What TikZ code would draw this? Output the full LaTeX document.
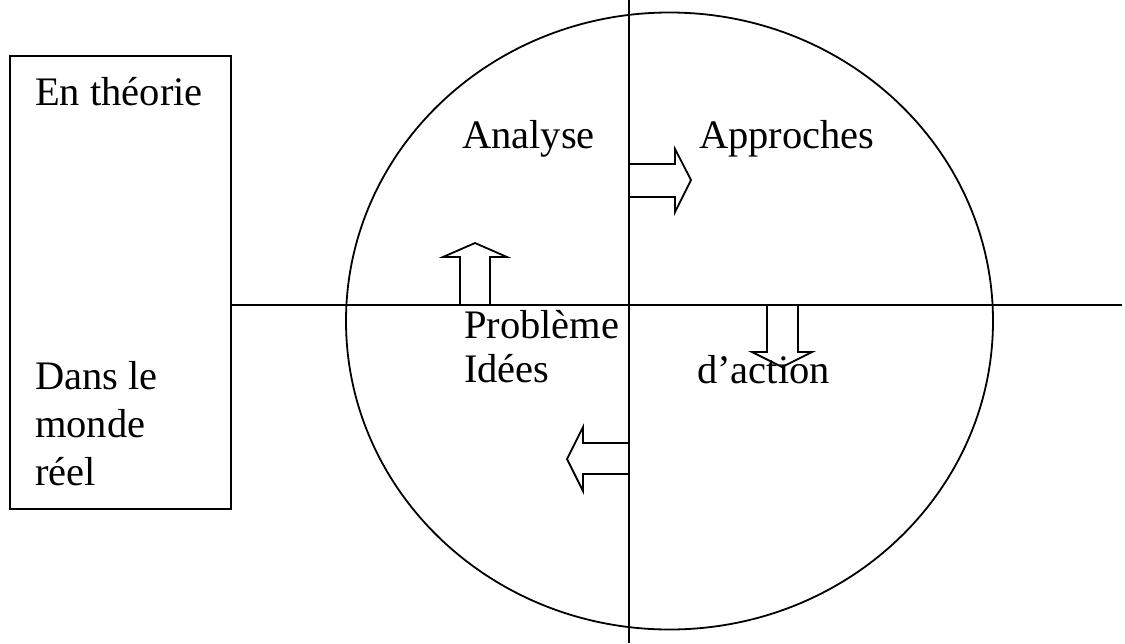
\documentclass[tikz,border=0pt]{standalone}
\usepackage{fontspec}
\setmainfont{Liberation Serif}
\begin{document}
\begin{tikzpicture}[x=1pt,y=-1pt,
  ink/.style={line width=1.8pt,black},
  lbl/.style={anchor=base west,inner sep=0pt,font=\fontsize{40.5}{48}\selectfont},
  fatarrow/.style={line width=1.8pt,black,line join=miter}]
\useasboundingbox (0,0) rectangle (1125,643);
% side box
\node[draw,line width=1.8pt,minimum width=221pt,minimum height=453pt,anchor=north west,inner sep=0pt] (box) at (9,55) {};
% cycle
\coordinate (c) at (669.5,321);
\draw[ink] (c) ellipse [x radius=323.5, y radius=308.5];
% axes
\coordinate (vtop) at (629,0);
\coordinate (vbot) at (629,643);
\coordinate (hend) at (1122,305);
\draw[ink] (vtop) -- (vbot);
\draw[ink] (box.east |- hend) -- (hend);
% labels
\node[lbl] (t1) at (35,105) {En théorie};
\node[lbl] (t2) at (35,389) {Dans le};
\node[lbl] (t3) at (35,437) {monde};
\node[lbl] (t4) at (35,485) {réel};
\node[lbl] (q1) at (462,148) {Analyse};
\node[lbl] (q2) at (699,148) {Approches};
\node[lbl] (q3) at (464,338) {Problème};
\node[lbl] (q4) at (464,382) {Idées};
\node[lbl] (q5) at (697,383) {d’action};
% block arrows between quadrants
\draw[fatarrow] (460,305) -- (460,257) -- (443,257) -- (475,243) -- (507,257) -- (490,257) -- (490,305);
\draw[fatarrow] (629,164) -- (675,164) -- (675,149) -- (691,180) -- (675,212) -- (675,197) -- (629,197);
\draw[fatarrow] (767,305) -- (767,352) -- (752,352) -- (782,367) -- (812,352) -- (798,352) -- (798,305);
\draw[fatarrow] (629,443) -- (583,443) -- (583,427) -- (567,459) -- (583,491) -- (583,474) -- (629,474);
\end{tikzpicture}
\end{document}
